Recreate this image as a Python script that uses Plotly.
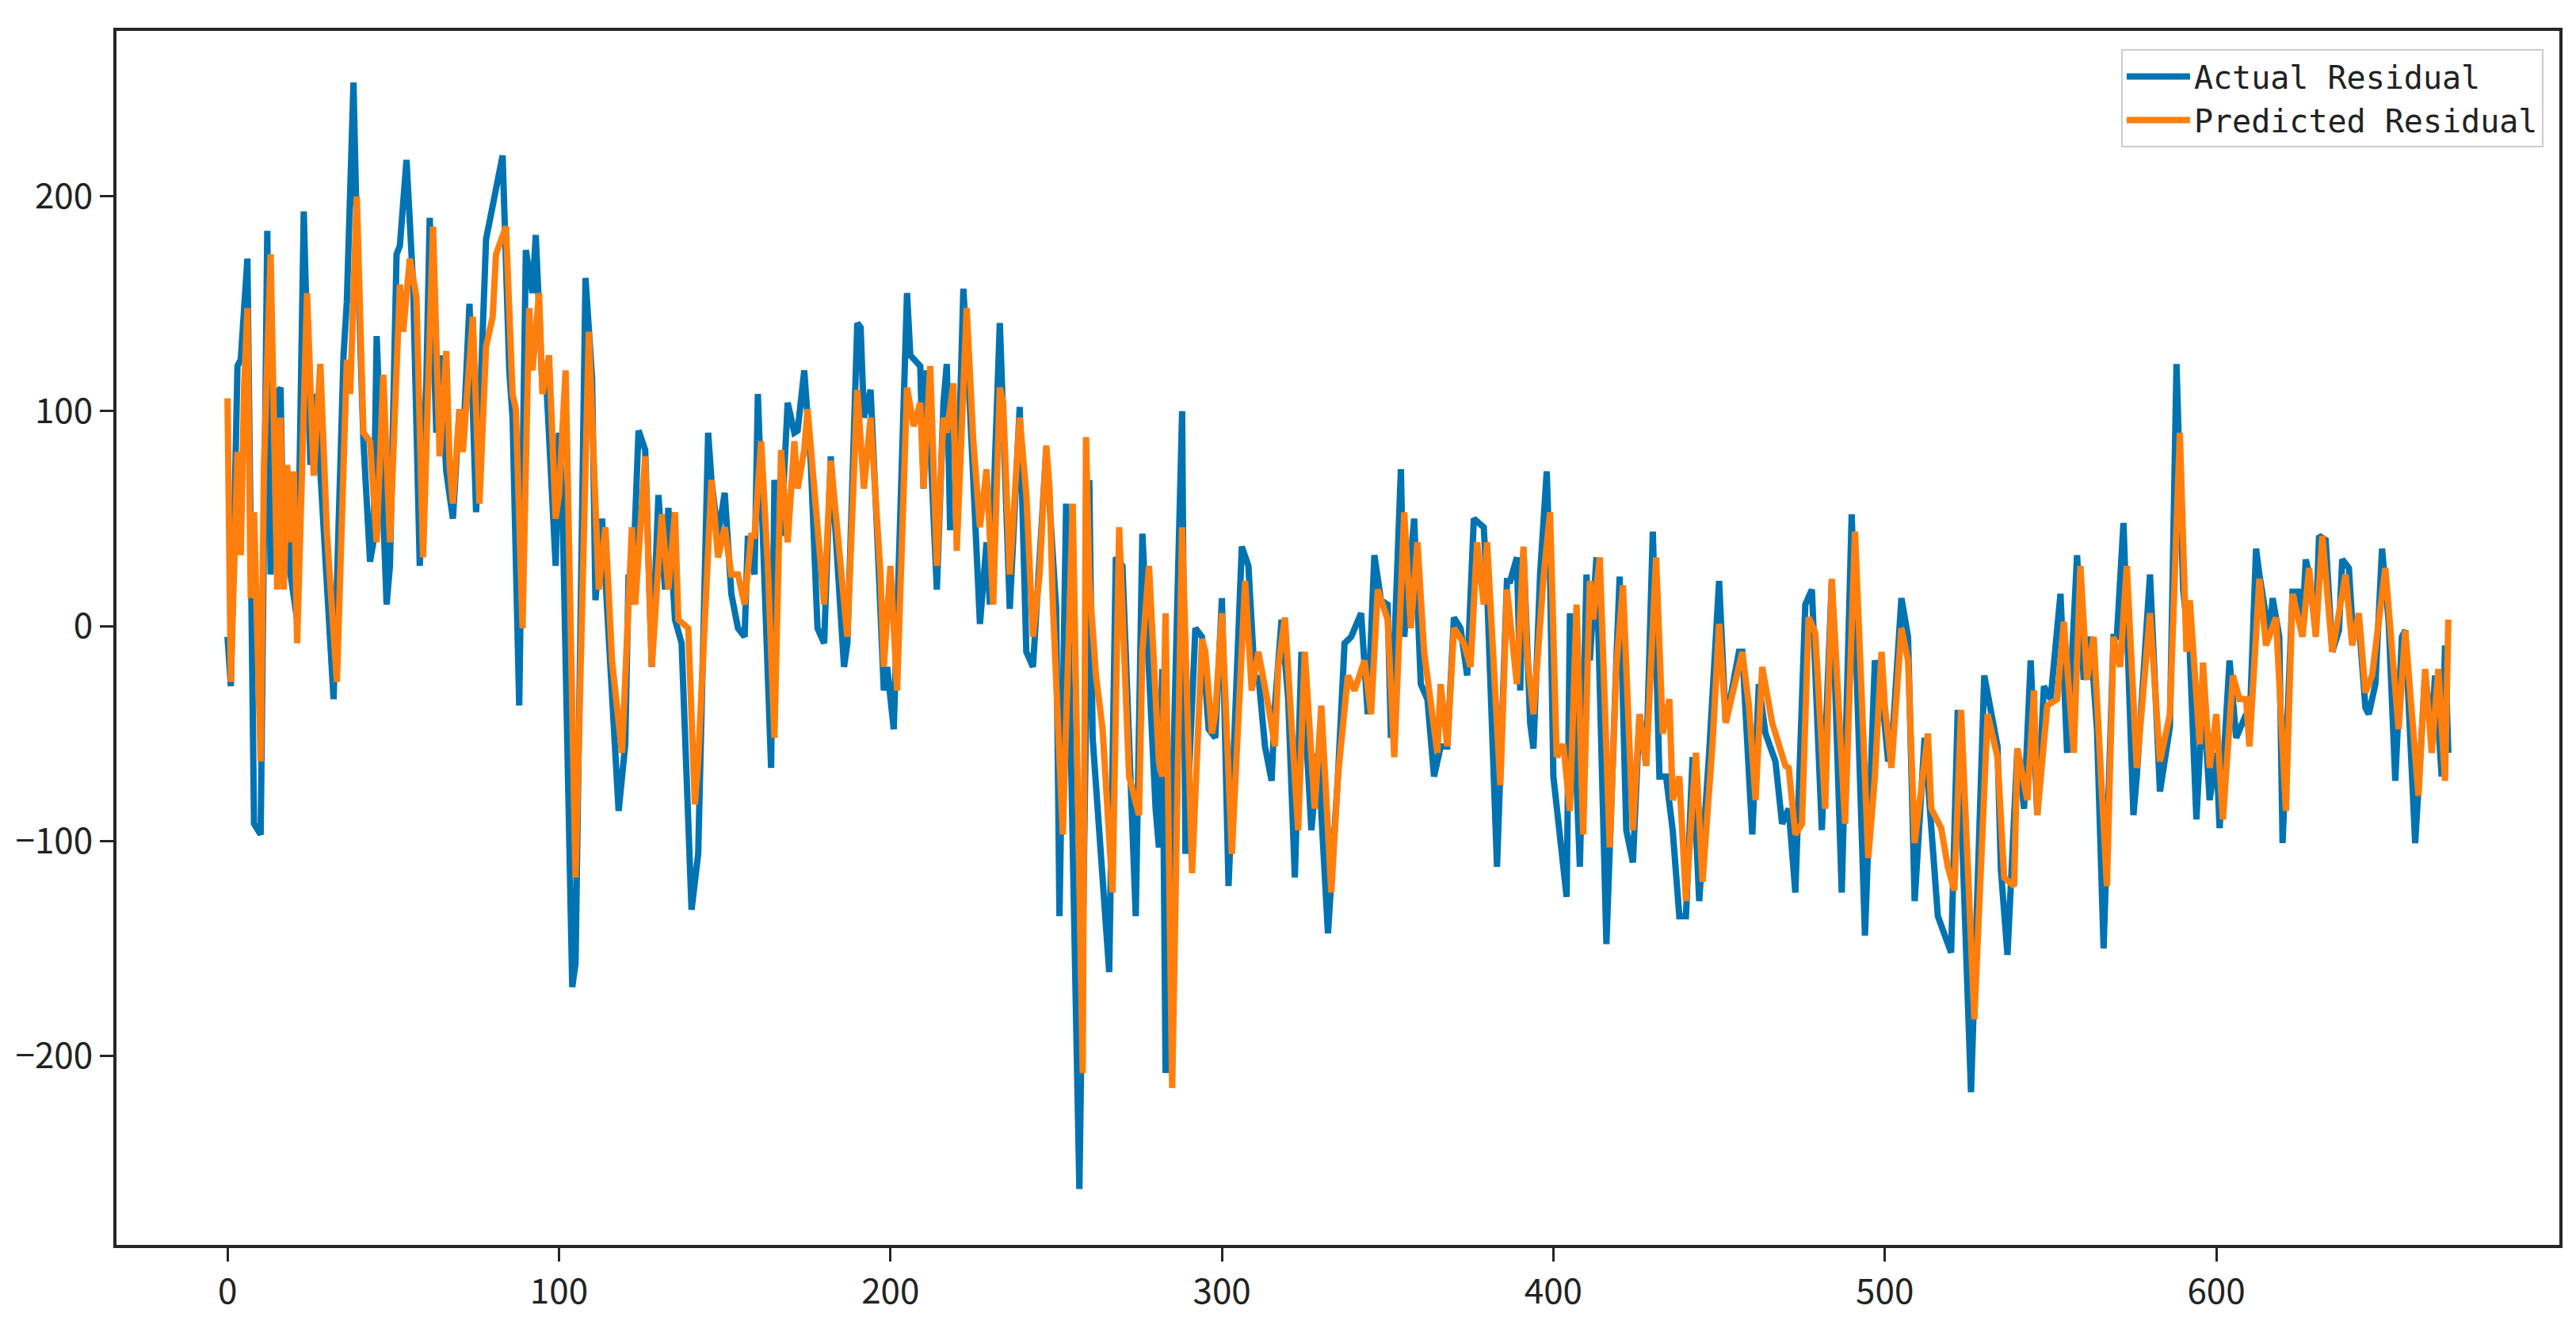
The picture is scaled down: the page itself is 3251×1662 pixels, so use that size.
import plotly.graph_objects as go

# Actual residual: vertices (index, value)
actual_x = [0,1,3,4,6,7,8,10,12,13,15,16,17,18,19,21,23,25,27,28,32,35,36,38,39,41,43,44,45,48,49,51,52,54,55,56,58,60,61,63,64,66,68,70,71,73,75,77,78,83,85,86,88,90,92,93,95,96,98,99,100,101,104,105,108,110,111,113,115,118,120,121,122,124,126,128,130,132,133,135,137,140,142,145,146,148,150,152,154,156,157,159,160,162,164,165,167,169,171,172,174,176,178,180,182,186,187,190,191,192,194,196,198,199,201,205,206,209,210,211,214,216,217,218,220,222,224,227,229,230,233,236,239,241,243,247,250,251,253,257,260,261,266,268,270,274,276,280,281,282,283,288,289,292,294,296,298,300,302,306,308,310,311,313,315,316,318,320,322,324,327,329,332,335,337,339,342,344,346,348,350,351,354,355,358,360,362,364,366,368,370,372,374,376,379,380,383,386,387,389,390,391,393,394,396,398,399,400,404,405,408,410,411,413,416,419,420,422,424,426,428,430,432,434,436,438,440,442,444,447,450,452,456,457,460,462,464,467,469,471,473,476,478,481,484,487,490,494,497,499,501,502,505,507,509,512,514,516,520,522,526,530,534,535,537,540,542,544,546,548,550,553,555,558,560,562,564,566,569,570,572,575,576,580,583,586,588,590,592,594,596,598,600,601,604,606,609,610,612,613,616,617,619,620,623,625,626,627,628,630,631,633,635,637,638,640,641,643,645,646,648,650,652,654,656,657,660,663,665,666,668,669,670]
actual_y = [-5,-28,121,124,171,15,-92,-97,184,24,108,111,24,72,24,3,193,75,108,72,-34,126,151,253,184,86,30,39,135,10,28,173,177,217,184,159,28,115,190,90,126,72,50,101,83,150,53,133,180,219,119,97,-37,175,155,182,111,119,53,28,90,61,-168,-157,162,115,12,50,-5,-86,-55,24,10,91,82,-19,61,17,55,3,-8,-132,-106,90,68,42,62,15,-1,-5,42,24,108,28,-66,68,42,104,90,91,119,75,-1,-8,79,-19,-8,141,139,97,110,43,-30,-19,-48,155,126,121,64,119,17,104,122,46,46,157,101,1,39,10,141,8,102,-12,-19,82,8,-135,57,-262,68,-52,-161,32,28,-135,43,-85,-103,-20,-208,100,-106,-1,-5,-48,-52,13,-121,37,28,-27,-23,-56,-72,-37,3,-34,-117,-12,-95,-59,-143,-70,-8,-5,6,-41,33,12,10,-52,73,-5,50,-27,-34,-70,-56,-56,4,-1,-23,50,46,17,-112,21,21,32,-30,35,-45,-57,24,72,24,-70,-126,6,-112,24,-16,32,-148,-16,23,-95,-110,-41,-65,44,-70,-70,-95,-135,-135,-61,-128,-59,21,-45,-12,-12,-97,-27,-50,-63,-92,-85,-124,10,17,-95,21,-124,52,-144,-16,-30,-63,-59,13,-5,-128,-52,-92,-135,-152,-39,-217,-23,-56,-113,-153,-57,-85,-16,-88,-28,-34,15,-59,33,-25,-5,-48,-150,-5,-5,48,-88,-70,24,-77,-47,122,17,-12,-90,-30,-81,-59,-94,-16,-52,-41,-48,36,24,-5,13,-5,-101,16,16,2,31,24,-2,42,40,-12,-2,31,27,2,2,-38,-41,-27,36,2,-72,-5,-2,-101,-23,-48,-23,-70,-9,-59]

# Predicted residual: vertices (index, value)
pred_x = [0,1,3,4,5,6,7,8,10,11,13,15,16,17,18,19,20,21,24,26,28,30,33,36,37,39,41,43,45,47,49,52,53,55,57,59,62,64,66,67,68,70,71,74,76,78,80,81,84,86,87,89,91,92,94,95,97,99,100,102,105,109,112,114,116,119,122,123,126,128,131,133,135,136,139,141,142,146,148,150,152,154,156,158,159,161,163,165,167,169,171,172,174,175,178,180,182,187,190,192,194,197,198,200,202,205,207,209,210,212,214,216,217,219,220,223,225,227,229,231,233,234,236,239,241,243,245,247,248,249,252,255,258,259,260,262,264,267,269,270,272,275,276,278,281,282,283,285,288,291,294,295,297,298,300,303,307,309,311,314,316,317,319,323,325,328,330,333,335,338,340,343,345,347,350,352,355,357,359,361,365,366,368,370,373,375,377,379,380,384,386,389,391,392,394,397,399,401,403,405,407,409,411,412,414,417,419,421,424,426,428,431,433,435,436,438,440,443,445,448,450,452,457,459,461,463,466,470,471,473,475,477,479,482,484,488,491,495,497,499,500,502,505,507,509,513,514,517,519,521,523,527,531,534,536,539,540,543,545,546,549,552,554,557,559,561,563,567,569,571,573,576,580,583,586,589,591,592,595,596,598,600,602,605,607,609,610,613,615,618,621,623,626,628,630,632,635,639,641,643,645,647,651,655,657,661,663,665,667,669,670]
pred_y = [106,-26,81,33,111,148,13,53,-63,75,173,17,97,17,75,39,72,-8,155,70,122,43,-26,124,108,200,90,86,39,117,39,159,137,171,153,32,186,79,128,75,57,101,81,144,57,130,144,173,186,108,101,-1,148,119,155,108,126,50,61,119,-117,137,17,46,-16,-59,46,10,79,-19,52,17,53,3,-1,-83,-63,68,32,46,24,24,10,42,42,86,28,-52,82,39,86,64,82,101,46,10,77,-5,110,64,97,24,-19,28,-30,111,93,104,64,121,28,97,90,113,35,148,86,46,73,10,111,104,24,97,61,-5,24,84,64,10,-97,57,-208,88,21,-23,-48,-124,46,3,-70,-88,-12,28,-63,-70,6,-215,46,-115,-6,-12,-50,-41,6,-106,21,-30,-12,-37,-56,-19,4,-95,-12,-85,-37,-124,-70,-23,-30,-16,-41,17,3,-61,53,-1,39,-12,-59,-27,-56,-1,-8,-19,39,10,39,-74,17,-27,37,-12,-41,22,53,-61,-55,-86,10,-97,21,3,32,-103,-19,19,-95,-41,-65,32,-50,-34,-81,-70,-128,-59,-119,-55,1,-45,-12,-37,-81,-19,-45,-65,-66,-97,-92,4,-3,-85,22,-92,44,-108,-70,-12,-37,-66,-1,-16,-101,-50,-85,-94,-112,-123,-39,-183,-41,-61,-117,-121,-57,-81,-30,-88,-37,-34,2,-59,28,-25,-5,-121,-5,-19,28,-66,6,-63,-41,90,-12,12,-55,-17,-66,-41,-90,-23,-34,-34,-56,22,-9,4,-86,15,-5,27,-5,42,-12,24,-9,6,-31,-23,27,-48,-2,-79,-20,-59,-20,-72,3]

x_ticks = [0, 100, 200, 300, 400, 500, 600]
y_ticks = [-200, -100, 0, 100, 200]

BLUE = "#0173B2"
ORANGE = "#FF7F0E"
AX = "#262626"

fig = go.Figure()
fig.add_trace(go.Scatter(x=actual_x, y=actual_y, mode="lines", name="Actual Residual",
                         line=dict(color=BLUE, width=8)))
fig.add_trace(go.Scatter(x=pred_x, y=pred_y, mode="lines", name="Predicted Residual",
                         line=dict(color=ORANGE, width=8)))

tickfont = dict(family="Noto Sans CJK SC, Arial, sans-serif", size=44, color="#222222")
fig.update_layout(
    width=3251, height=1662,
    margin=dict(l=139, r=29, t=31, b=97),
    paper_bgcolor="white", plot_bgcolor="white",
    showlegend=True,
    legend=dict(x=0.9935, y=0.985, xanchor="right", yanchor="top",
                bgcolor="white", bordercolor="#cccccc", borderwidth=2,
                font=dict(family="DejaVu Sans Mono, monospace", size=40, color="#222222"),
                itemwidth=80, tracegroupgap=0),
)
fig.update_xaxes(range=[-33.5, 703.5], tickvals=x_ticks, ticktext=[str(v) for v in x_ticks],
                 showgrid=False, zeroline=False, showline=True, linecolor=AX, linewidth=4,
                 mirror=True, ticks="outside", ticklen=17, tickwidth=3, tickcolor=AX,
                 tickfont=tickfont)
fig.update_yaxes(range=[-288, 277], tickvals=y_ticks, ticktext=[("\u2212" + str(-v)) if v < 0 else str(v) for v in y_ticks],
                 showgrid=False, zeroline=False, showline=True, linecolor=AX, linewidth=4,
                 mirror=True, ticks="outside", ticklen=17, tickwidth=3, tickcolor=AX,
                 tickfont=tickfont)

fig.write_html("out.html")
